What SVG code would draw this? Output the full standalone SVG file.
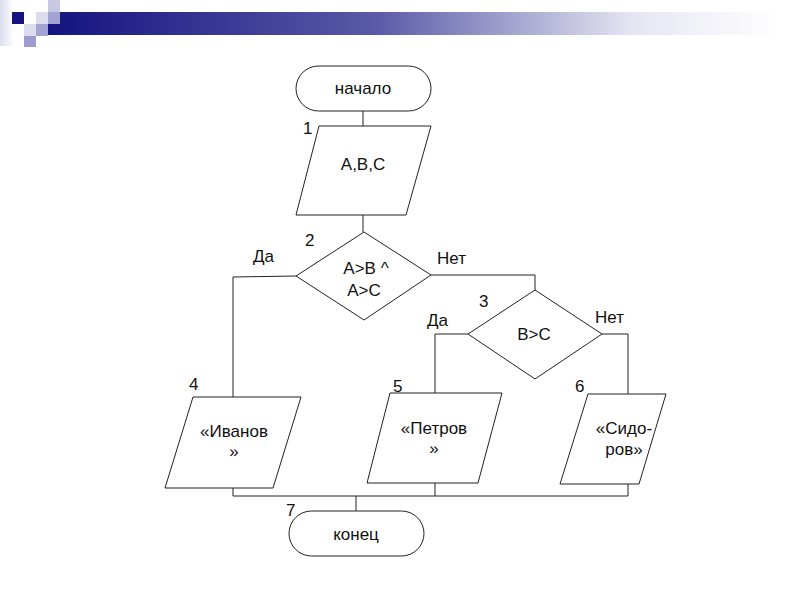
<svg xmlns="http://www.w3.org/2000/svg" width="800" height="600" viewBox="0 0 800 600">
<defs>
<linearGradient id="bar" x1="48" y1="0" x2="780" y2="0" gradientUnits="userSpaceOnUse">
<stop offset="0" stop-color="#141480"/>
<stop offset="0.45" stop-color="#5a5aa8"/>
<stop offset="0.8" stop-color="#e6e6f3"/>
<stop offset="1" stop-color="#ffffff"/>
</linearGradient>
<linearGradient id="left" x1="0" y1="0" x2="14" y2="0" gradientUnits="userSpaceOnUse">
<stop offset="0" stop-color="#dcdcee"/>
<stop offset="1" stop-color="#ffffff"/>
</linearGradient>
</defs>
<style>
.s{fill:#fff;stroke:#222;stroke-width:1}
.c{fill:none;stroke:#222;stroke-width:1}
text{font-family:"Liberation Sans",Arial,sans-serif;font-size:17px;fill:#111}
.m{text-anchor:middle}
</style>
<rect width="800" height="600" fill="#fff"/>
<g id="decor">
<rect x="0" y="0" width="14" height="46" fill="url(#left)"/>
<rect x="48" y="12" width="752" height="23" fill="url(#bar)"/>
<rect x="12" y="12" width="12" height="12" fill="#141480"/>
<rect x="48" y="0" width="12" height="12" fill="#c8c8e4"/>
<rect x="36" y="12" width="12" height="12" fill="#dcdcee"/>
<rect x="48" y="12" width="12" height="12" fill="#a4a4d2"/>
<rect x="24" y="24" width="12" height="12" fill="#dcdcee"/>
<rect x="36" y="24" width="12" height="12" fill="#a4a4d2"/>
<rect x="24" y="36" width="12" height="11" fill="#9c9ccf"/>
</g>
<g id="connectors">
<polyline class="c" points="363,111 363,126"/>
<polyline class="c" points="363,215 363,232"/>
<polyline class="c" points="296,276 233,277 233,397"/>
<polyline class="c" points="431,275 535,275 535,290"/>
<polyline class="c" points="468,334 435,334 435,393"/>
<polyline class="c" points="602,334 628,334 628,394"/>
<polyline class="c" points="233,488 233,496 628,496 628,484"/>
<polyline class="c" points="435,483 435,496"/>
<polyline class="c" points="356,496 356,511"/>
</g>
<g id="n0">
<rect class="s" x="296" y="66" width="135" height="45" rx="22.5"/>
<text class="m" x="363" y="94">начало</text>
</g>
<g id="n1">
<polygon class="s" points="319,126 431,126 406,215 296,215"/>
<text class="m" x="363" y="170">A,B,C</text>
<text x="303" y="134">1</text>
</g>
<g id="n2">
<polygon class="s" points="364,232 431,275 364,320 296,276"/>
<text class="m" x="366" y="274">A&gt;B ^</text>
<text class="m" x="364" y="296">A&gt;C</text>
<text x="305" y="246">2</text>
<text x="253" y="262">Да</text>
<text x="437" y="264">Нет</text>
</g>
<g id="n3">
<polygon class="s" points="535,290 602,334 535,379 468,334"/>
<text class="m" x="534" y="340">B&gt;C</text>
<text x="479" y="307">3</text>
<text x="427" y="326">Да</text>
<text x="595" y="323">Нет</text>
</g>
<g id="n4">
<polygon class="s" points="193,397 301,397 273,488 165,488"/>
<text class="m" x="234" y="437">«Иванов</text>
<text class="m" x="234" y="457">»</text>
<text x="189" y="390">4</text>
</g>
<g id="n5">
<polygon class="s" points="390,393 502,393 478,483 367,483"/>
<text class="m" x="434" y="434">«Петров</text>
<text class="m" x="434" y="454">»</text>
<text x="393" y="392">5</text>
</g>
<g id="n6">
<polygon class="s" points="588,394 666,394 639,484 560,484"/>
<text class="m" x="624" y="434">«Сидо-</text>
<text class="m" x="624" y="455">ров»</text>
<text x="575" y="392">6</text>
</g>
<g id="n7">
<rect class="s" x="289" y="511" width="135" height="45" rx="22.5"/>
<text class="m" x="356" y="540">конец</text>
<text x="286" y="516">7</text>
</g>
</svg>
